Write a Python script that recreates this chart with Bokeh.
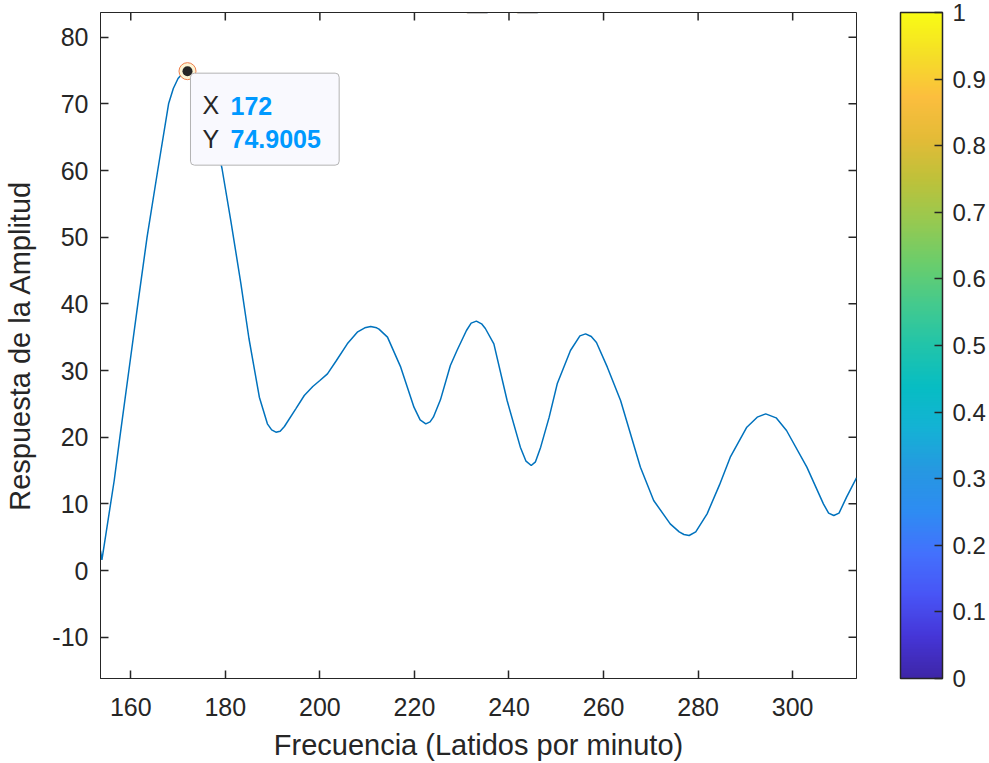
import numpy as np
from bokeh.plotting import figure
from bokeh.models import (FixedTicker, Range1d, ColorBar, LinearColorMapper, Label)
from bokeh.embed import file_html
from bokeh.resources import INLINE

# Amplitude spectrum of the heart-rate signal
freq = [153.6, 153.9, 156.5, 157.7, 159.6, 161.5, 163.45, 165.7, 168.0, 169.0,
        170.0, 171.0, 172.0, 173.0, 174.0, 175.0, 176.0, 177.0, 178.0, 179.3,
        181.2, 183.3, 185.0, 187.2, 188.9, 189.8, 190.7, 191.6, 192.5, 194.9,
        196.7, 198.5, 200.0, 201.6, 203.5, 205.8, 208.0, 209.5, 210.75, 212.0,
        212.5, 214.3, 217.1, 219.9, 221.2, 222.4, 223.3, 224.0, 225.5, 227.6,
        229.0, 231.0, 232.0, 233.1, 234.2, 235.0, 236.8, 239.6, 242.4, 243.6,
        244.7, 245.6, 246.7, 248.5, 250.2, 253.0, 255.0, 256.2, 257.4, 258.5,
        260.8, 263.6, 267.8, 270.6, 274.1, 276.0, 277.0, 278.1, 279.5, 281.9,
        284.5, 286.8, 290.3, 292.5, 294.3, 296.5, 298.7, 303.0, 306.5, 307.6,
        308.7, 309.8, 311.4, 313.5]
amp = [3.0, 1.6, 13.5, 20.0, 30.0, 40.0, 50.0, 60.0, 70.0, 72.3,
       73.8, 74.6, 74.9, 74.5, 73.6, 72.2, 70.2, 67.6, 64.5, 60.3,
       52.3, 43.0, 34.8, 26.0, 22.0, 21.1, 20.75, 20.9, 21.6, 24.25,
       26.25, 27.6, 28.5, 29.5, 31.5, 34.0, 35.8, 36.4, 36.6, 36.4,
       36.2, 35.0, 30.5, 24.5, 22.6, 22.0, 22.3, 23.0, 25.6, 30.75,
       33.0, 36.0, 37.1, 37.4, 37.0, 36.3, 34.0, 25.5, 18.5, 16.4,
       15.75, 16.3, 18.5, 23.0, 28.0, 33.0, 35.2, 35.5, 35.1, 34.2,
       30.5, 25.5, 15.5, 10.5, 7.0, 5.8, 5.4, 5.25, 5.8, 8.5,
       12.8, 17.0, 21.5, 23.0, 23.5, 22.9, 21.0, 15.5, 10.0, 8.6,
       8.25, 8.6, 11.0, 13.9]

# Data tip at the main peak
tip_x = 172
tip_y = 74.9005

x_lo, x_hi = 153.6, 313.5
y_lo, y_hi = -16.2, 83.7
x_ticks = [160, 180, 200, 220, 240, 260, 280, 300]
y_ticks = [-10, 0, 10, 20, 30, 40, 50, 60, 70, 80]
y_tick_labels = {-10: "-10"}
cbar_ticks = [0, 0.1, 0.2, 0.3, 0.4, 0.5, 0.6, 0.7, 0.8, 0.9, 1]
cbar_labels = ["0", "0.1", "0.2", "0.3", "0.4", "0.5", "0.6", "0.7", "0.8", "0.9", "1"]

x_label = "Frecuencia (Latidos por minuto)"
y_label = "Respuesta de la Amplitud"

FONT = "Liberation Sans"
INK = "#262626"
TICK_SIZE = "25px"
LABEL_SIZE = "29px"
TIP_SIZE = "25px"

# parula-like colormap built from anchor colours
anchors = ["#3E26A8", "#4536D8", "#4855F6", "#4371FD", "#2E8CF2", "#2698E1",
           "#14B2D5", "#07BDC3", "#21C4AA", "#44CA8D", "#6BCD6B", "#97C950",
           "#BEC13A", "#E4BB37", "#FCBE3E", "#F5DE27", "#F9FB14"]
pos = np.linspace(0, 1, len(anchors))
rgb = np.array([[int(c[i:i + 2], 16) for i in (1, 3, 5)] for c in anchors], float)
t = np.linspace(0, 1, 256)
parula = ["#%02x%02x%02x" % tuple(int(round(np.interp(v, pos, rgb[:, k]))) for k in range(3))
          for v in t]

p = figure(width=989, height=763, output_backend="svg", toolbar_location=None,
           x_range=Range1d(x_lo, x_hi), y_range=Range1d(y_lo, y_hi),
           min_border_left=100, min_border_right=133, min_border_top=12,
           min_border_bottom=85, x_axis_label=x_label, y_axis_label=y_label)
p.background_fill_color = "white"
p.border_fill_color = "white"
p.outline_line_color = INK
p.outline_line_width = 1
p.xgrid.visible = False
p.ygrid.visible = False


def style_axis(ax, ticks):
    ax.ticker = FixedTicker(ticks=ticks)
    ax.axis_line_color = INK
    ax.major_tick_line_color = INK
    ax.major_tick_line_width = 1.5
    ax.major_tick_in = 8
    ax.major_tick_out = 0
    ax.minor_tick_line_color = None
    ax.major_label_text_font = FONT
    ax.major_label_text_color = INK
    ax.major_label_text_font_size = TICK_SIZE
    ax.axis_label_text_font = FONT
    ax.axis_label_text_color = INK
    ax.axis_label_text_font_style = "normal"
    ax.axis_label_text_font_size = LABEL_SIZE


style_axis(p.xaxis[0], x_ticks)
style_axis(p.yaxis[0], y_ticks)
p.yaxis[0].major_label_overrides = y_tick_labels
p.xaxis[0].major_label_standoff = 19
p.xaxis[0].axis_label_standoff = 10
p.yaxis[0].major_label_standoff = 12
p.yaxis[0].axis_label_standoff = 13

# inward ticks along the top and right edges of the box
p.scatter(x_ticks, [y_hi] * len(x_ticks), marker="dash", angle=np.pi / 2, size=16,
          line_color=INK, line_width=1.5)
p.scatter([x_hi] * len(y_ticks), y_ticks, marker="dash", size=16,
          line_color=INK, line_width=1.5)

# spectrum curve
p.line(freq, amp, line_color="#0072BD", line_width=1.5)

# data tip marker
p.scatter([tip_x], [tip_y], size=17, fill_color="#FCF4D4", line_color="#EE7E4C", line_width=1)
p.scatter([tip_x], [tip_y], size=10, fill_color=INK, line_color=None)

# data tip box, carrying the first row name
p.add_layout(Label(x=tip_x, y=tip_y, x_offset=3, y_offset=-2, anchor="top_left", text="X",
                   text_font=FONT, text_font_size=TIP_SIZE, text_color=INK,
                   padding=dict(left=12, right=120, top=18, bottom=46),
                   background_fill_color="#F9F9FE", border_line_color="#B4B4B4",
                   border_line_width=1, border_radius=4))
p.add_layout(Label(x=tip_x, y=tip_y, x_offset=15, y_offset=-68, text="Y",
                   text_font=FONT, text_font_size=TIP_SIZE, text_color=INK,
                   text_baseline="middle", text_align="left"))
for val, dy in [(f"{tip_x:g}", -35), (f"{tip_y}", -68)]:
    p.add_layout(Label(x=tip_x, y=tip_y, x_offset=43, y_offset=dy, text=val,
                       text_font=FONT, text_font_size=TIP_SIZE, text_font_style="bold",
                       text_color="#0099FF", text_baseline="middle", text_align="left"))

# title, mostly clipped above the canvas
p.add_layout(Label(x=238.6, y=y_hi, y_offset=16, text="_\u00a0\u00a0\u00a0_", text_font=FONT,
                   text_font_size="36px", text_font_style="bold", text_color=INK,
                   text_align="center", text_baseline="alphabetic"))

mapper = LinearColorMapper(palette=parula, low=0, high=1)
cbar = ColorBar(color_mapper=mapper, ticker=FixedTicker(ticks=cbar_ticks),
                major_label_overrides={v: s for v, s in zip(cbar_ticks, cbar_labels)},
                width=42, height=666, padding=0, margin=0, location=(44, 0),
                bar_line_color=INK, bar_line_width=1.5,
                major_tick_in=8, major_tick_out=0, major_tick_line_color=INK,
                major_tick_line_width=1.5, minor_tick_line_color=None,
                major_label_text_font=FONT, major_label_text_font_size="24px",
                major_label_text_color=INK, label_standoff=10,
                background_fill_color=None, border_line_color=None)
p.add_layout(cbar, "right")

open("out.html", "w").write(file_html(p, INLINE))
